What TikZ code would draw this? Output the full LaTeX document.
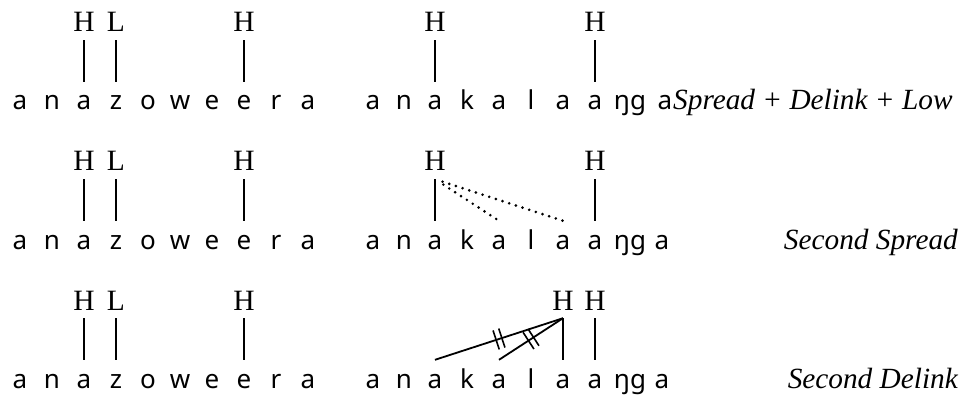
\documentclass[tikz,border=0pt]{standalone}
\usepackage{fontspec}
\setmainfont{Liberation Serif}
\newfontfamily\segfont{Noto Sans}
\usetikzlibrary{decorations.markings}
\begin{document}
\begin{tikzpicture}[x=1pt,y=-1pt,
  seg/.style={font=\segfont\fontsize{26}{26}\selectfont, inner sep=0pt,
    text height=22pt, text depth=6pt, anchor=base},
  tone/.style={font=\fontsize{29.5}{30}\selectfont, inner sep=0pt,
    text height=20pt, text depth=0pt, anchor=base},
  rowlabel/.style={font=\itshape\fontsize{29.3}{30}\selectfont, inner sep=0pt},
  assoc/.style={line width=1.8pt},
  spread/.style={line width=2.9pt, dash pattern=on 0pt off 7pt, line cap=round},
  delink/.style={line width=1.8pt, postaction={decorate},
    decoration={markings, mark=at position 0.5 with
      {\draw[line width=1.6pt] (-3pt,-10pt) -- (-3pt,10pt) (3pt,-10pt) -- (3pt,10pt);}}}
]
\useasboundingbox (0,0) rectangle (964,401);

% three derivation lines: segments, first word's tones and its links
\foreach \r/\yo in {1/0,2/139,3/278} {
  \foreach \c/\x [count=\i] in {a/20,n/52,a/84,z/116,o/148,w/180,e/212,e/244,r/276,a/308}
    \node[seg] (a\r-\i) at (\x,110+\yo) {\c};
  \foreach \c/\x [count=\i] in {a/373,n/404,a/435,k/467,a/499,l/531,a/563,a/595,ŋg/630}
    \node[seg] (b\r-\i) at (\x,110+\yo) {\c};
  \node[tone] (ta\r-1) at (84,32+\yo) {H};
  \node[tone] (ta\r-2) at (116,32+\yo) {L};
  \node[tone] (ta\r-3) at (244,32+\yo) {H};
  \draw[assoc] ([yshift=-8pt]ta\r-1.south) -- ([yshift=6pt]a\r-3.north);
  \draw[assoc] ([yshift=-8pt]ta\r-2.south) -- ([yshift=6pt]a\r-4.north);
  \draw[assoc] ([yshift=-8pt]ta\r-3.south) -- ([yshift=6pt]a\r-8.north);
}

% final vowel of the second word
\node[seg] (b1-10) at (665,110) {a};
\node[seg] (b2-10) at (662,249) {a};
\node[seg] (b3-10) at (662,388) {a};

% row 1: Spread + Delink + Low
\node[tone] (tb1-1) at (435,32) {H};
\node[tone] (tb1-2) at (595,32) {H};
\draw[assoc] ([yshift=-8pt]tb1-1.south) -- ([yshift=6pt]b1-3.north);
\draw[assoc] ([yshift=-8pt]tb1-2.south) -- ([yshift=6pt]b1-8.north);
\node[rowlabel, anchor=base west] (lab1) at (673,110) {Spread + Delink + Low};

% row 2: Second Spread
\node[tone] (tb2-1) at (435,171) {H};
\node[tone] (tb2-2) at (595,171) {H};
\draw[assoc] ([yshift=-8pt]tb2-1.south) -- ([yshift=6pt]b2-3.north);
\draw[assoc] ([yshift=-8pt]tb2-2.south) -- ([yshift=6pt]b2-8.north);
\draw[spread, shorten <=10pt] ([yshift=-8pt]tb2-1.south) -- ([yshift=6pt]b2-5.north);
\draw[spread, shorten <=8pt] ([yshift=-8pt]tb2-1.south) -- ([yshift=6pt]b2-7.north);
\node[rowlabel, anchor=base east] (lab2) at (958,249) {Second Spread};

% row 3: Second Delink
\node[tone] (tb3-1) at (563,310) {H};
\node[tone] (tb3-2) at (595,310) {H};
\coordinate (apex) at ([yshift=-8pt]tb3-1.south);
\draw[assoc] (apex) -- ([yshift=6pt]b3-7.north);
\draw[assoc] ([yshift=-8pt]tb3-2.south) -- ([yshift=6pt]b3-8.north);
\draw[delink] (apex) -- ([yshift=6pt]b3-3.north);
\draw[delink] (apex) -- ([yshift=6pt]b3-5.north);
\node[rowlabel, anchor=base east] (lab3) at (958,388) {Second Delink};
\end{tikzpicture}
\end{document}
